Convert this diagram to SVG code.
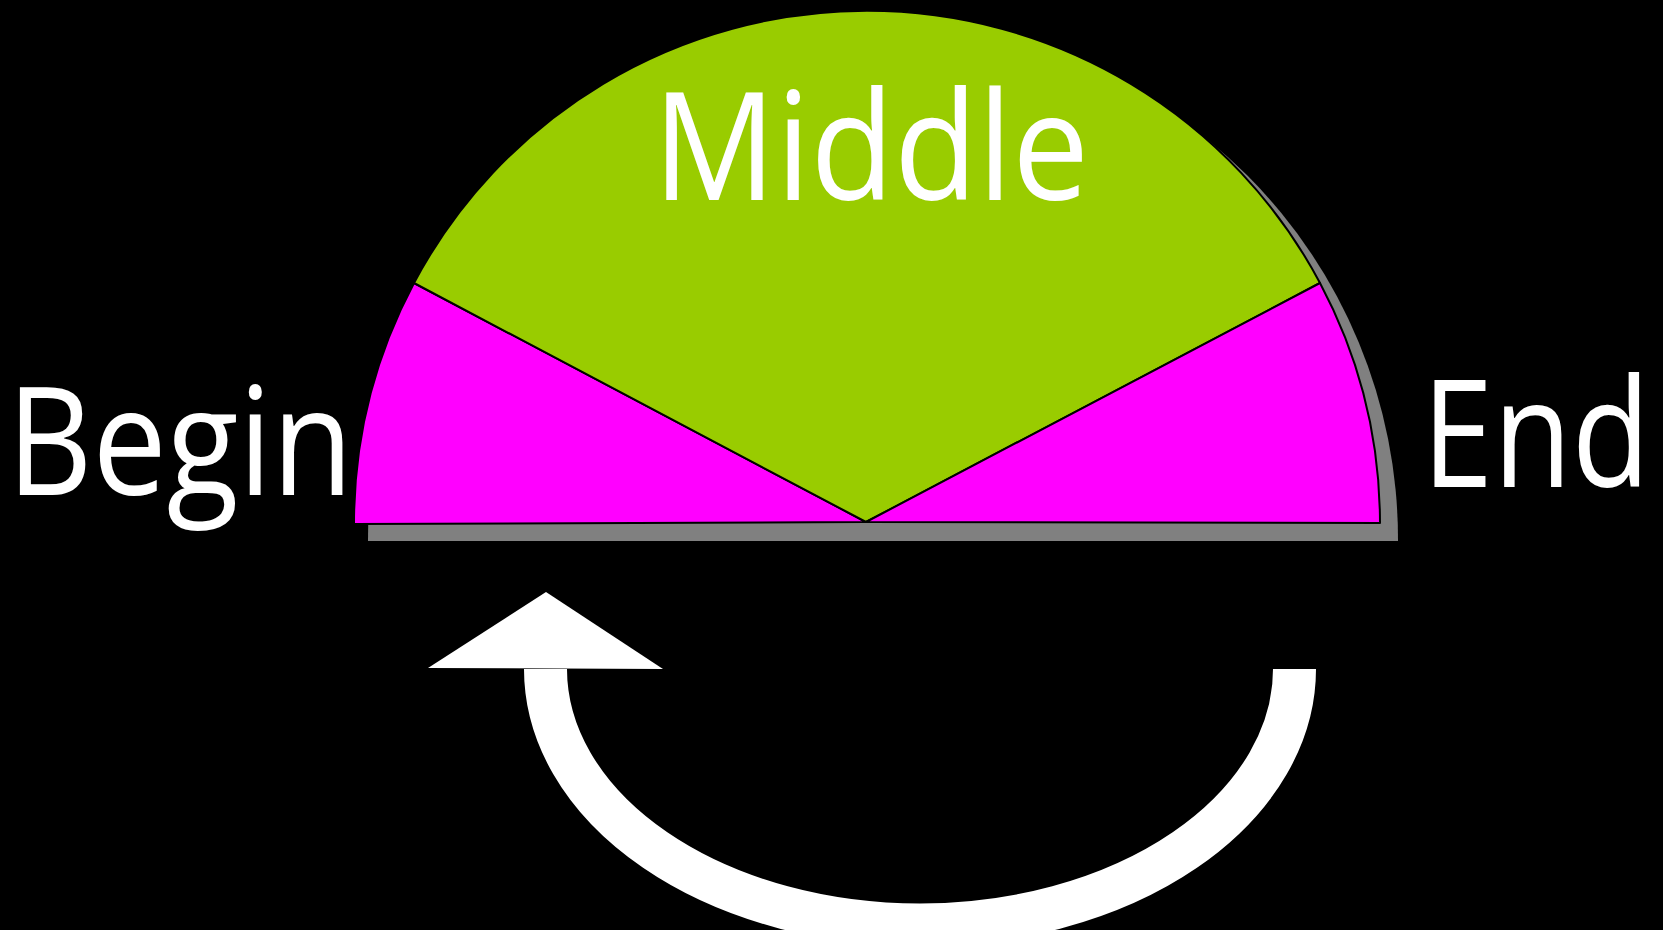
<svg xmlns="http://www.w3.org/2000/svg" width="1663" height="930" viewBox="0 0 1663 930">
<style>
.lbl{font-family:"Open Sans","Liberation Sans",sans-serif;fill:#ffffff;font-size:150px}
.wedge{stroke:#000000;stroke-width:2;stroke-linejoin:round}
.pink{fill:#ff00ff}
.green{fill:#99cc00}
</style>
<rect x="0" y="0" width="1663" height="930" fill="#000000"/>
<g id="shadow">
<path d="M368,541 L368,539.5 A515,515 0 0 1 1398,539.5 L1398,541 Z" fill="#808080"/>
</g>
<g id="begin-wedge">
<path class="wedge pink" d="M354,524 A513,513 0 0 1 414,283 L866,522 Z"/>
</g>
<g id="middle-wedge">
<path class="wedge green" d="M414,283 A513,513 0 0 1 1320,283 L866,522 Z"/>
</g>
<g id="end-wedge">
<path class="wedge pink" d="M1320,283 A513,513 0 0 1 1380,523 L866,522 Z"/>
</g>
<g id="connectors">
<path d="M1294.5,669 A374.5,256 0 0 1 545.5,669" fill="none" stroke="#ffffff" stroke-width="43"/>
<polygon points="546,592 428,668 663,669" fill="#ffffff"/>
</g>
<g id="label-middle">
<text class="lbl" x="653" y="200" textLength="436" lengthAdjust="spacingAndGlyphs">Middle</text>
</g>
<g id="label-begin">
<text class="lbl" x="7" y="495" textLength="346" lengthAdjust="spacingAndGlyphs">Begin</text>
</g>
<g id="label-end">
<text class="lbl" x="1650" y="487" text-anchor="end" textLength="228" lengthAdjust="spacingAndGlyphs">End</text>
</g>
</svg>
